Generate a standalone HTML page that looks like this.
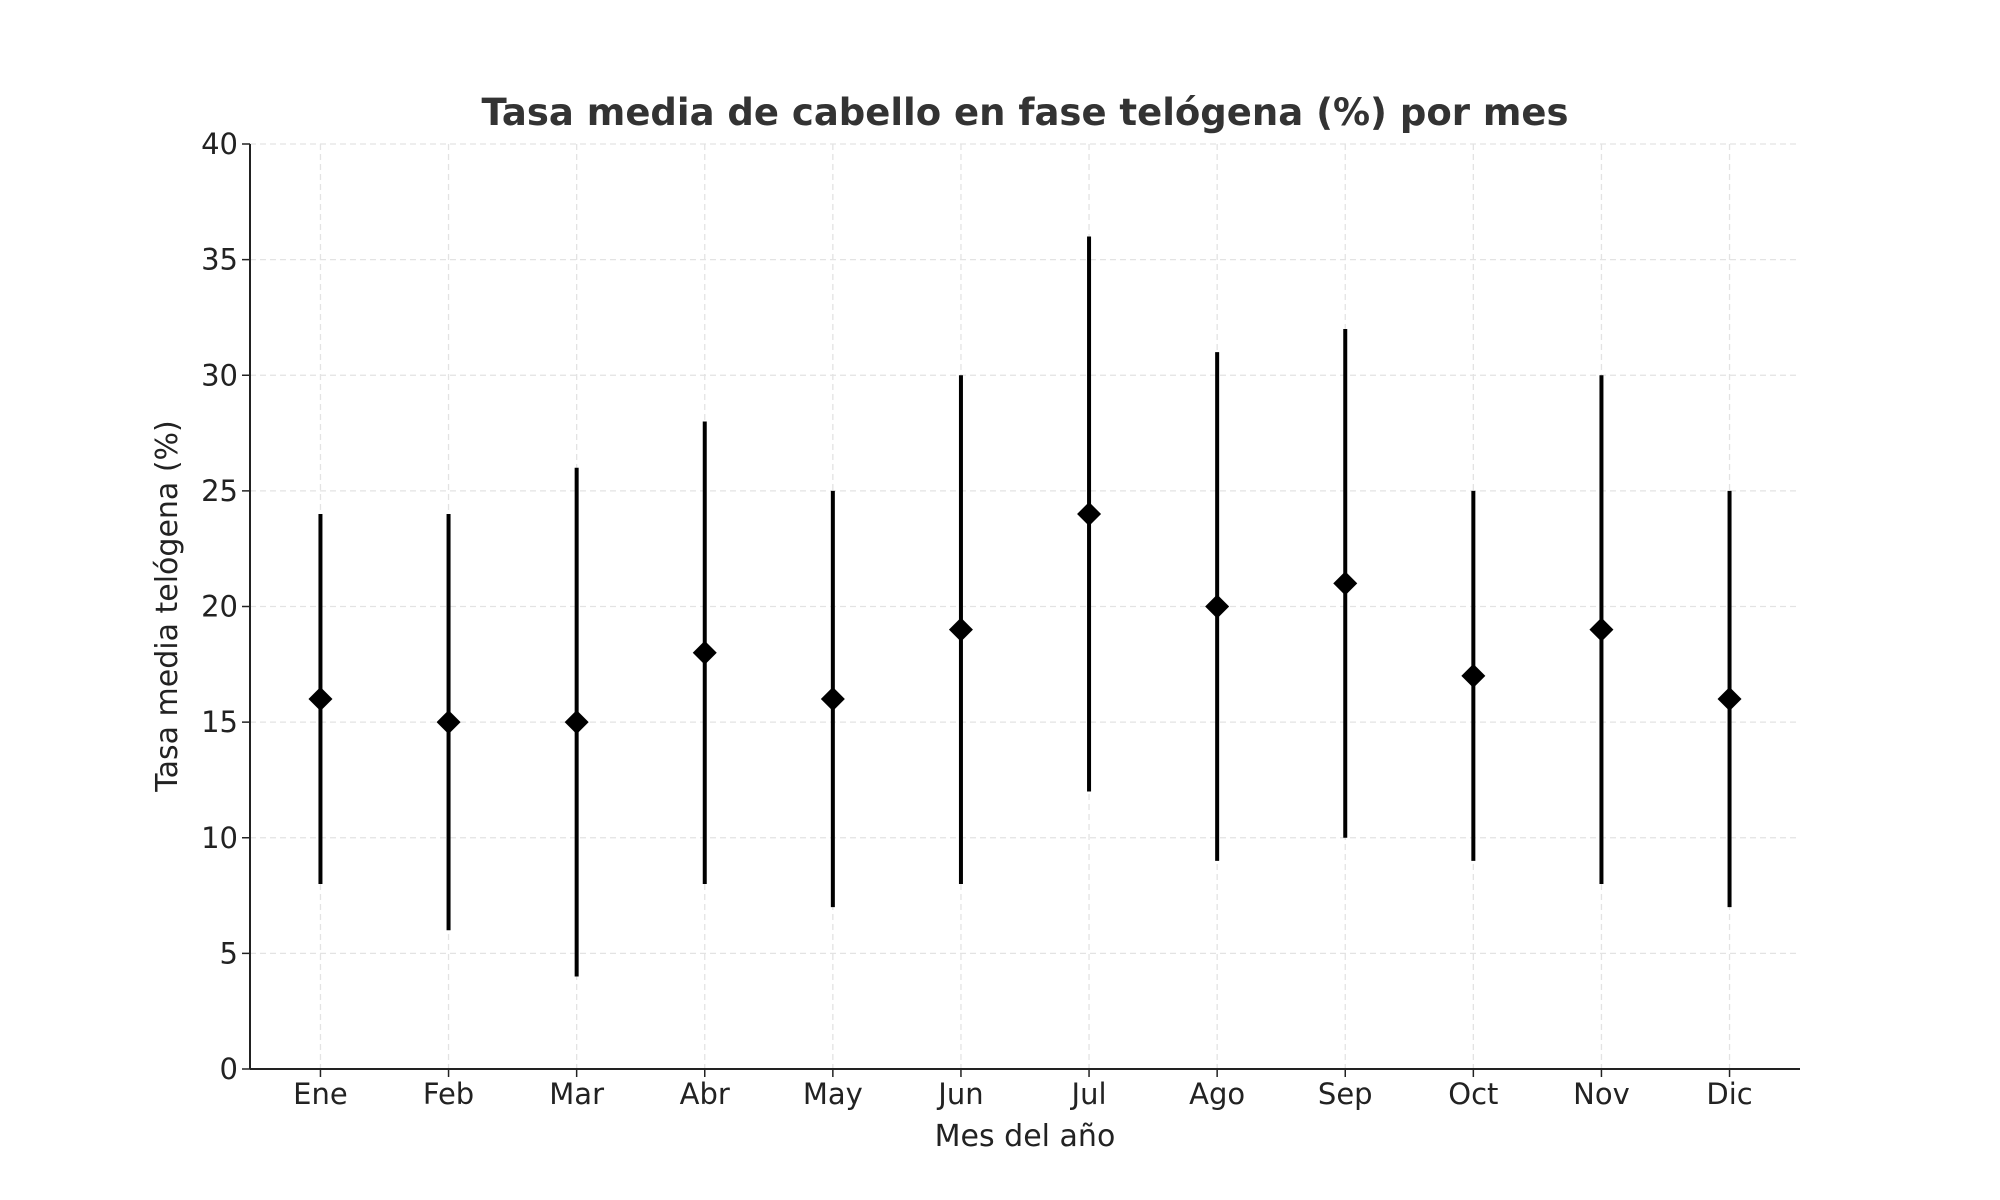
<!DOCTYPE html>
<html><head><meta charset="utf-8"><style>
html,body{margin:0;padding:0;background:#fff;}
svg{display:block;font-family:"DejaVu Sans","Liberation Sans",sans-serif;}
</style></head><body>
<svg id="chart" width="2000" height="1200" viewBox="0 0 2000 1200">
<text x="1025" y="125" text-anchor="middle" font-size="37" font-weight="bold" fill="#333">Tasa media de cabello en fase telógena (%) por mes</text>
<g id="grid"></g>
<g id="axes"></g>
<g id="marks"></g>
<text x="1025" y="1146" text-anchor="middle" font-size="30" fill="#222">Mes del año</text>
<text transform="translate(177,606) rotate(-90)" text-anchor="middle" font-size="30" fill="#222">Tasa media telógena (%)</text>
</svg>
<script>
const categories=["Ene","Feb","Mar","Abr","May","Jun","Jul","Ago","Sep","Oct","Nov","Dic"];
const means=[16,15,15,18,16,19,24,20,21,17,19,16];
const lows=[8,6,4,8,7,8,12,9,10,9,8,7];
const highs=[24,24,26,28,25,30,36,31,32,25,30,25];
const yTicks=[0,5,10,15,20,25,30,35,40];
const NS="http://www.w3.org/2000/svg";
const L=250,R=1800,T=144,B=1069;
function xs(i){return L+(i+0.55)*(R-L)/(categories.length+0.1);}
function ys(v){return B-(v/40)*(B-T);}
function mk(tag,attrs,parent,txt){const e=document.createElementNS(NS,tag);for(const k in attrs)e.setAttribute(k,attrs[k]);if(txt!==undefined)e.textContent=txt;parent.appendChild(e);return e;}
const grid=document.getElementById('grid'),axes=document.getElementById('axes'),marks=document.getElementById('marks');
yTicks.forEach(t=>{
 const g=mk('line',{x1:L,x2:R,y1:ys(t),y2:ys(t),stroke:'#e3e3e3','stroke-width':1.3,'stroke-dasharray':'6,4'},grid);
 
 
 const tk=mk('line',{x1:L-8,x2:L,y1:ys(t),y2:ys(t),stroke:'#222','stroke-width':1.5},axes);
 
 
 const lb=mk('text',{x:L-12,y:ys(t)+10,'text-anchor':'end','font-size':29,fill:'#222'},axes,String(t));
 
 
});
categories.forEach((c,i)=>{
 const x=xs(i);
 const g=mk('line',{x1:x,x2:x,y1:T,y2:B,stroke:'#e3e3e3','stroke-width':1.3,'stroke-dasharray':'6,4'},grid);
 
 
 const tk=mk('line',{x1:x,x2:x,y1:B,y2:B+8,stroke:'#222','stroke-width':1.5},axes);
 
 
 const lb=mk('text',{x:x,y:B+35,'text-anchor':'middle','font-size':29,fill:'#222'},axes,c);
 
 
 const eb=mk('line',{x1:x,x2:x,y1:ys(lows[i]),y2:ys(highs[i]),stroke:'#000','stroke-width':4},marks);
 
 
 const y=ys(means[i]),d=12;
 const p=mk('polygon',{points:`${x},${y-d} ${x+d},${y} ${x},${y+d} ${x-d},${y}`,fill:'#000'},marks);
 
 
});
const ax1=mk('line',{x1:L,x2:L,y1:T,y2:B,stroke:'#222','stroke-width':2},axes);


const ax2=mk('line',{x1:L,x2:R,y1:B,y2:B,stroke:'#222','stroke-width':2},axes);


</script>
</body></html>
